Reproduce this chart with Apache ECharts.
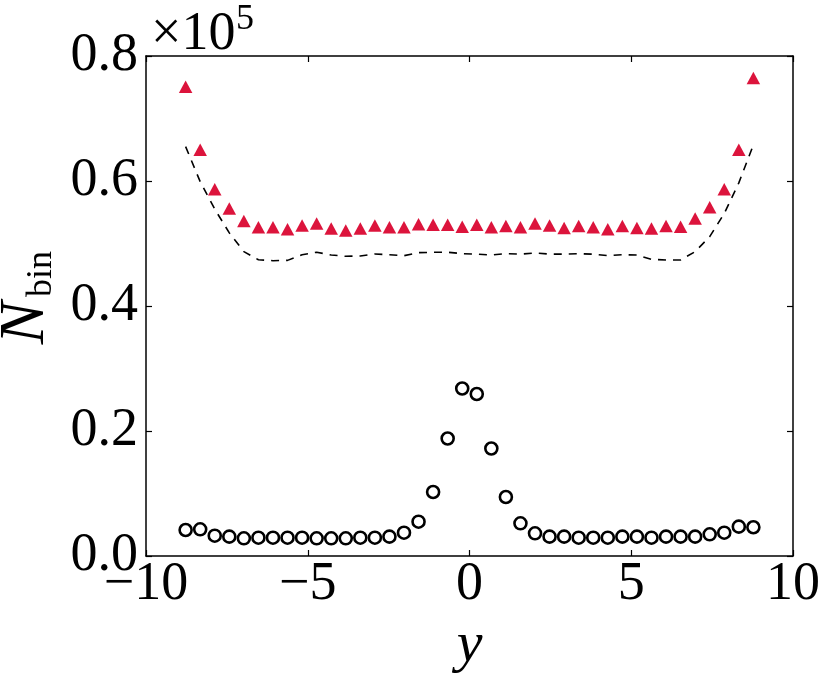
<!DOCTYPE html>
<html>
<head>
<meta charset="utf-8">
<script src="https://cdn.jsdelivr.net/npm/echarts@6/dist/echarts.min.js"></script>
<style>
  html, body { margin: 0; padding: 0; background: #fff; }
  #chart { width: 830px; height: 688px; }
</style>
</head>
<body>
<div id="chart"></div>
<script>
// Bin centres (y)
const binCenters = [-8.775, -8.325, -7.875, -7.425, -6.975, -6.525, -6.075, -5.625, -5.175, -4.725,
  -4.275, -3.825, -3.375, -2.925, -2.475, -2.025, -1.575, -1.125, -0.675, -0.225,
  0.225, 0.675, 1.125, 1.575, 2.025, 2.475, 2.925, 3.375, 3.825, 4.275,
  4.725, 5.175, 5.625, 6.075, 6.525, 6.975, 7.425, 7.875, 8.325, 8.775];

// N_bin values in units of 10^5
const triangles = [0.751, 0.650, 0.587, 0.556, 0.536, 0.526, 0.526, 0.523, 0.529, 0.532,
  0.524, 0.521, 0.524, 0.529, 0.526, 0.526, 0.531, 0.530, 0.530, 0.527,
  0.530, 0.526, 0.528, 0.526, 0.532, 0.529, 0.525, 0.528, 0.526, 0.523,
  0.528, 0.525, 0.524, 0.528, 0.527, 0.540, 0.558, 0.587, 0.650, 0.765];

const circles = [0.0416, 0.0427, 0.0325, 0.0310, 0.0283, 0.0293, 0.0293, 0.0293, 0.0293, 0.0283,
  0.0283, 0.0283, 0.0293, 0.0293, 0.0310, 0.0373, 0.0549, 0.1024, 0.1880, 0.2680,
  0.2592, 0.1720, 0.0944, 0.0523, 0.0363, 0.0310, 0.0310, 0.0293, 0.0293, 0.0293,
  0.0310, 0.0310, 0.0293, 0.0310, 0.0310, 0.0310, 0.0347, 0.0373, 0.0470, 0.0460];

const dashed = [0.655, 0.599, 0.555, 0.517, 0.487, 0.474, 0.4725, 0.473, 0.482, 0.486,
  0.4816, 0.4795, 0.480, 0.4832, 0.482, 0.4805, 0.4853, 0.486, 0.486, 0.4837,
  0.483, 0.4816, 0.4837, 0.483, 0.4848, 0.483, 0.483, 0.4837, 0.483, 0.4805,
  0.482, 0.4816, 0.4747, 0.4736, 0.4736, 0.487, 0.511, 0.548, 0.597, 0.6576];

const xTicks = { min: -10, max: 10, interval: 5 };
const yTicks = { min: 0, max: 0.8, interval: 0.2 };

const pair = (xs, ys) => xs.map((x, i) => [x, ys[i]]);

const FONT = '"Liberation Serif", "DejaVu Serif", serif';
const lineStyle = { color: '#000', width: 1.5 };
const tickStyle = { show: true, inside: true, length: 6, lineStyle: { color: '#000', width: 1.2 } };

const chart = echarts.init(document.getElementById('chart'), null, { renderer: 'canvas' });
chart.setOption({
  animation: false,
  backgroundColor: '#fff',
  grid: { left: 146, right: 37, top: 56, bottom: 132, containLabel: false, outerBoundsMode: 'none' },
  xAxis: [
    {
      type: 'value', min: xTicks.min, max: xTicks.max, interval: xTicks.interval, position: 'bottom',
      axisLine: { show: true, onZero: false, lineStyle },
      axisTick: tickStyle,
      splitLine: { show: false },
      axisLabel: {
        color: '#000', fontFamily: FONT, fontSize: 54, margin: 2,
        formatter: v => (v < 0 ? '\u2212' + Math.abs(v) : String(v))
      },
      name: 'y', nameLocation: 'middle', nameGap: 56,
      nameTextStyle: { color: '#000', fontFamily: FONT, fontStyle: 'italic', fontSize: 58 }
    },
    {
      type: 'value', min: xTicks.min, max: xTicks.max, interval: xTicks.interval, position: 'top',
      axisLine: { show: true, onZero: false, lineStyle },
      axisTick: tickStyle, axisLabel: { show: false }, splitLine: { show: false }
    }
  ],
  yAxis: [
    {
      type: 'value', min: yTicks.min, max: yTicks.max, interval: yTicks.interval, position: 'left',
      axisLine: { show: true, onZero: false, lineStyle },
      axisTick: tickStyle,
      splitLine: { show: false },
      axisLabel: {
        color: '#000', fontFamily: FONT, fontSize: 54, margin: 8,
        formatter: v => v.toFixed(1)
      }
    },
    {
      type: 'value', min: yTicks.min, max: yTicks.max, interval: yTicks.interval, position: 'right',
      axisLine: { show: true, onZero: false, lineStyle },
      axisTick: tickStyle, axisLabel: { show: false }, splitLine: { show: false }
    }
  ],
  graphic: [
    { type: 'text', x: 151, y: 35, style: { text: '\u00d710', font: '54px ' + FONT, fill: '#000', align: 'left', verticalAlign: 'middle' } },
    { type: 'text', x: 236, y: 20, style: { text: '5', font: '36px ' + FONT, fill: '#000', align: 'left', verticalAlign: 'middle' } },
    { type: 'text', x: 26, y: 323, rotation: Math.PI / 2, style: { text: 'N', font: 'italic 64px ' + FONT, fill: '#000', align: 'center', verticalAlign: 'middle' } },
    { type: 'text', x: 60, y: 274, rotation: Math.PI / 2, style: { text: 'bin', font: '36px ' + FONT, fill: '#000', align: 'center', verticalAlign: 'bottom' } }
  ],
  series: [
    {
      type: 'line', data: pair(binCenters, dashed), symbol: 'none',
      lineStyle: { color: '#000', width: 1.6, type: [8, 7] }, z: 2
    },
    {
      type: 'scatter', data: pair(binCenters, triangles), symbol: 'triangle', symbolSize: [13.5, 12.5],
      itemStyle: { color: '#dc143c', opacity: 1 }, z: 3
    },
    {
      type: 'scatter', data: pair(binCenters, circles), symbol: 'circle', symbolSize: 12,
      itemStyle: { color: 'rgba(255,255,255,0)', borderColor: '#000', borderWidth: 2.6, opacity: 1 }, z: 4
    }
  ]
});
</script>
</body>
</html>
